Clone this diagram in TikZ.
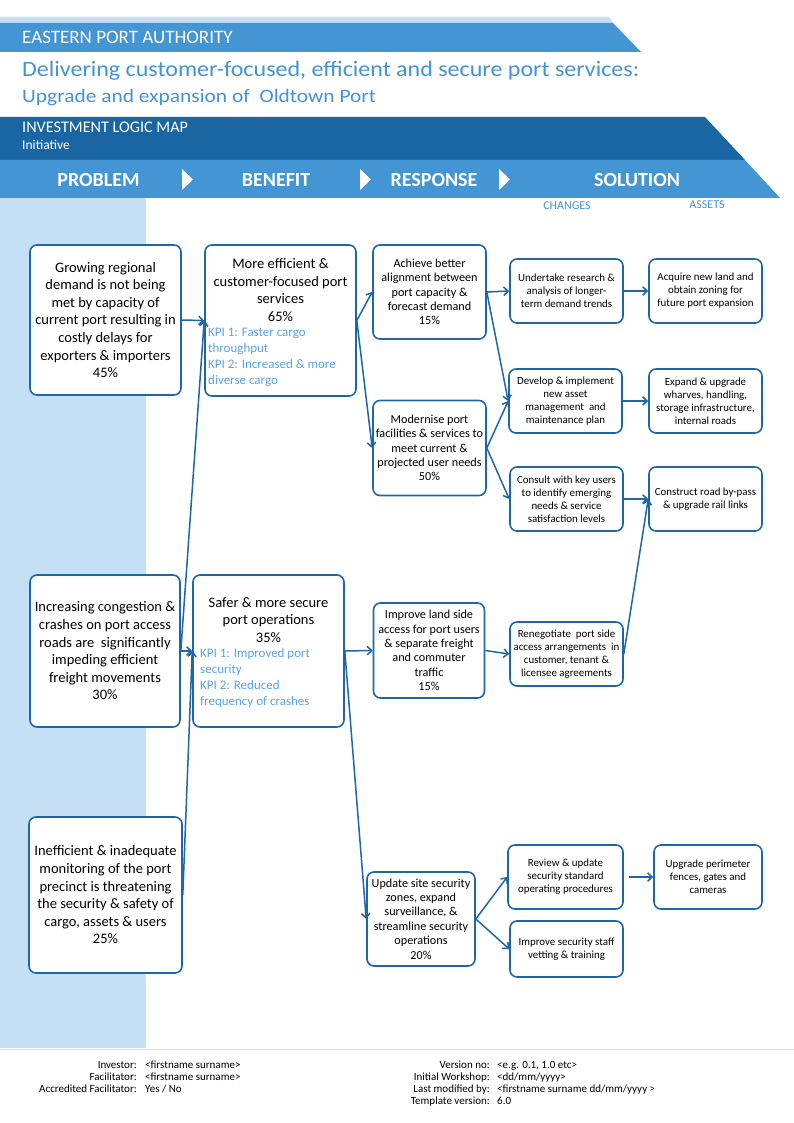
\documentclass[tikz,border=0pt]{standalone}
\usepackage{fontspec}
\usepackage{graphicx}
\setmainfont{Carlito}
\usetikzlibrary{arrows.meta}
\definecolor{midblue}{HTML}{4395D4}
\definecolor{darkblue}{HTML}{1A66A2}
\definecolor{lightblue}{HTML}{C5DFF4}
\definecolor{bord}{HTML}{1F66A6}
\definecolor{kpi}{HTML}{5AA4E4}
\definecolor{titleblue}{HTML}{4394D4}
\begin{document}
\begin{tikzpicture}[x=1pt,y=-1pt,
 box/.style={draw=bord, line width=1.6pt, rounded corners=7pt, fill=white, align=center, inner sep=1pt},
 pfont/.style={font=\fontsize{14.5}{17.6}\selectfont},
 kfont/.style={font=\fontsize{13}{16}\selectfont, text=kpi, align=left, anchor=west, inner sep=0pt},
 rfont/.style={font=\fontsize{12.2}{14.4}\selectfont},
 cfont/.style={font=\fontsize{10.9}{13}\selectfont},
 conn/.style={draw=bord, line width=1.5pt, -{Straight Barb[length=4.5pt,width=8.5pt]}},
 hdrtxt/.style={text=white, inner sep=0pt},
 foot/.style={font=\fontsize{11}{12}\selectfont, inner sep=0pt},
]
\useasboundingbox (0,0) rectangle (794,1123);
\fill[white] (0,0) rectangle (794,1123);
% header bands
\fill[lightblue] (0,17) -- (609,17) -- (613,23) -- (0,23) -- cycle;
\fill[midblue] (0,23) -- (613,23) -- (641,52) -- (0,52) -- cycle;
\node[hdrtxt, anchor=base west, font=\fontsize{19}{21}\selectfont] (hdr) at (22,44) {EASTERN PORT AUTHORITY};
\node[anchor=base west, inner sep=0pt, text=titleblue, font=\fontsize{22}{26}\selectfont] (title) at (22,77) {\resizebox{617pt}{\height}{Delivering customer-focused, efficient and secure port services:}};
\node[anchor=base west, inner sep=0pt, text=titleblue, font=\fontsize{19}{22}\selectfont] (subtitle) at (22,103) {\resizebox{354pt}{\height}{Upgrade and expansion of \ Oldtown Port}};
\fill[darkblue] (0,117) -- (705,117) -- (745,160) -- (0,160) -- cycle;
\node[hdrtxt, anchor=base west, font=\fontsize{16.2}{18}\selectfont] (ilm) at (22,133) {INVESTMENT LOGIC MAP};
\node[hdrtxt, anchor=base west, font=\fontsize{13.5}{15}\selectfont] (init) at (22,150) {Initiative};
\fill[midblue] (0,160) -- (745,160) -- (780,198) -- (0,198) -- cycle;
\node[hdrtxt, font=\bfseries\fontsize{20}{22}\selectfont] (hprob) at (98.5,180) {PROBLEM};
\node[hdrtxt, font=\bfseries\fontsize{20}{22}\selectfont] (hben) at (276,180) {BENEFIT};
\node[hdrtxt, font=\bfseries\fontsize{20}{22}\selectfont] (hresp) at (434,180) {RESPONSE};
\node[hdrtxt, font=\bfseries\fontsize{20}{22}\selectfont] (hsol) at (637,180) {SOLUTION};
\fill[white] (182,169) -- (193,179.5) -- (182,190) -- cycle;
\fill[white] (360,169) -- (371,179.5) -- (360,190) -- cycle;
\fill[white] (499,169) -- (510,179.5) -- (499,190) -- cycle;
\node[inner sep=0pt, text=midblue, font=\fontsize{12}{14}\selectfont] (chg) at (567,206) {CHANGES};
\node[inner sep=0pt, text=midblue, font=\fontsize{12}{14}\selectfont] (ast) at (707,205) {ASSETS};
% left column
\fill[lightblue] (0,198) rectangle (146,1048);
\draw[lightblue, line width=1pt] (0,1049) -- (794,1049);

% problem boxes
\node[box, pfont, minimum width=151pt, minimum height=150pt] (p1) at (105.5,320) {Growing regional\\demand is not being\\met by capacity of\\current port resulting in\\costly delays for\\exporters \& importers\\45\%};
\node[box, pfont, minimum width=150pt, minimum height=152pt] (p2) at (105,651) {Increasing congestion \&\\crashes on port access\\roads are \ significantly\\impeding efficient\\freight movements\\30\%};
\node[box, pfont, minimum width=153pt, minimum height=156pt] (p3) at (105.5,895) {Inefficient \& inadequate\\monitoring of the port\\precinct is threatening\\the security \& safety of\\cargo, assets \& users\\25\%};

% benefit boxes
\node[box, minimum width=151pt, minimum height=151pt] (b1) at (280.5,320.5) {};
\node[pfont, align=center, inner sep=0pt] (b1t) at (280.5,290) {More efficient \&\\customer-focused port\\services\\65\%};
\node[kfont] (b1k) at (208,357) {KPI 1: Faster cargo\\throughput\\KPI 2: Increased \& more\\diverse cargo};
\node[box, minimum width=151pt, minimum height=152pt] (b2) at (268.5,651) {};
\node[pfont, align=center, inner sep=0pt] (b2t) at (268.5,620) {Safer \& more secure\\port operations\\35\%};
\node[kfont] (b2k) at (200,678) {KPI 1: Improved port\\security\\KPI 2: Reduced\\frequency of crashes};

% response boxes
\node[box, rfont, minimum width=113pt, minimum height=94pt] (r1) at (429.5,292) {Achieve better\\alignment between\\port capacity \&\\forecast demand\\15\%};
\node[box, rfont, minimum width=113pt, minimum height=95pt] (r2) at (429.5,448) {Modernise port\\facilities \& services to\\meet current \&\\projected user needs\\50\%};
\node[box, rfont, minimum width=111pt, minimum height=95pt] (r3) at (429,650.5) {Improve land side\\access for port users\\\& separate freight\\and commuter\\traffic\\15\%};
\node[box, rfont, minimum width=108pt, minimum height=94pt] (r4) at (421,919) {Update site security\\zones, expand\\surveillance, \&\\streamline security\\operations\\20\%};

% changes boxes
\node[box, cfont, minimum width=113pt, minimum height=64pt] (c1) at (566.5,291) {Undertake research \&\\analysis of longer-\\term demand trends};
\node[box, cfont, minimum width=113pt, minimum height=64pt] (c2) at (565.5,401) {Develop \& implement\\new asset\\management \ and\\maintenance plan};
\node[box, cfont, minimum width=113pt, minimum height=64pt] (c3) at (566.5,499) {Consult with key users\\to identify emerging\\needs \& service\\satisfaction levels};
\node[box, cfont, minimum width=113pt, minimum height=64pt] (c4) at (566.5,654) {Renegotiate \ port side\\access arrangements \ in\\customer, tenant \&\\licensee agreements};
\node[box, cfont, minimum width=115pt, minimum height=64pt] (c5) at (565.5,877) {Review \& update\\security standard\\operating procedures};
\node[box, cfont, minimum width=113pt, minimum height=56pt] (c6) at (566.5,949) {Improve security staff\\vetting \& training};

% assets boxes
\node[box, cfont, minimum width=113pt, minimum height=64pt] (a1) at (705.5,291) {Acquire new land and\\obtain zoning for\\future port expansion};
\node[box, cfont, minimum width=113pt, minimum height=64pt] (a2) at (705.5,401) {Expand \& upgrade\\wharves, handling,\\storage infrastructure,\\internal roads};
\node[box, cfont, minimum width=113pt, minimum height=64pt] (a3) at (705.5,499) {Construct road by-pass\\\& upgrade rail links};
\node[box, cfont, minimum width=108pt, minimum height=64pt] (a5) at (708,877) {Upgrade perimeter\\fences, gates and\\cameras};

% connectors
\draw[conn] (p1.east) -- (b1.west);
\draw[conn] (p2.east) -- (b1.west);
\draw[conn] (p2.east) -- (b2.west);
\draw[conn] (p3.east) -- (b2.west);
\draw[conn] (b1.east) -- (r1.west);
\draw[conn] (b1.east) -- (r2.west);
\draw[conn] (b2.east) -- (r3.west);
\draw[conn] (b2.east) -- (r4.west);
\draw[conn] (r1.east) -- (c1.west);
\draw[conn] (r1.east) -- (c2.west);
\draw[conn] (r2.east) -- (c2.west);
\draw[conn] (r2.east) -- (c3.west);
\draw[conn] (r3.east) -- (c4.west);
\draw[conn] (r4.east) -- (c5.west);
\draw[conn] (r4.east) -- (c6.west);
\draw[conn] (c1.east) -- (a1.west);
\draw[conn] (c2.east) -- (a2.west);
\draw[conn] (c3.east) -- (a3.west);
\draw[conn] (c4.east) -- (a3.west);
\draw[conn, shorten <=5pt] (c5.east) -- (a5.west);

% footer
\node[foot, anchor=north east, align=right] (fl1) at (137,1061) {Investor:\\Facilitator:\\Accredited Facilitator:};
\node[foot, anchor=north west, align=left] (fv1) at (145,1061) {<firstname surname>\\<firstname surname>\\Yes / No};
\node[foot, anchor=north east, align=right] (fl2) at (490,1061) {Version no:\\Initial Workshop:\\Last modified by:\\Template version:};
\node[foot, anchor=north west, align=left] (fv2) at (497,1061) {<e.g. 0.1, 1.0 etc>\\<dd/mm/yyyy>\\<firstname surname dd/mm/yyyy >\\6.0};
\end{tikzpicture}
\end{document}
